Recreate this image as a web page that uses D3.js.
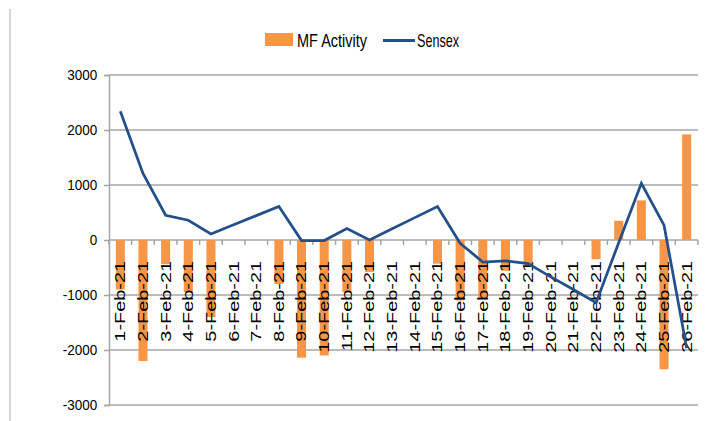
<!DOCTYPE html>
<html lang="en">
<head>
<meta charset="UTF-8">
<title>MF Activity vs Sensex</title>
<script src="https://d3js.org/d3.v7.min.js"></script>
<style>
  body { margin: 0; background: #fff; }
  svg text { font-family: "Liberation Sans", Arial, sans-serif; fill: #000; }
</style>
</head>
<body>
<script>
// dates on the category axis
const dates = ["1-Feb-21","2-Feb-21","3-Feb-21","4-Feb-21","5-Feb-21","6-Feb-21","7-Feb-21",
  "8-Feb-21","9-Feb-21","10-Feb-21","11-Feb-21","12-Feb-21","13-Feb-21","14-Feb-21",
  "15-Feb-21","16-Feb-21","17-Feb-21","18-Feb-21","19-Feb-21","20-Feb-21","21-Feb-21",
  "22-Feb-21","23-Feb-21","24-Feb-21","25-Feb-21","26-Feb-21"];

// MF Activity (bars), null = no value that day
const mfActivity = [-900, -2200, -440, -950, -1400, null, null, -800, -2140, -2100, -950, -580, null, null,
  -430, -1100, -1050, -560, -450, null, null, -350, 350, 720, -2350, 1920];

// Sensex (line)
const sensex = [2340, 1210, 450, 360, 110, 277, 443, 610, -10, -10, 210, 0, 203, 407,
  610, -60, -400, -380, -430, -670, -900, -1140, -50, 1030, 270, -1970];

const yTicks = [-3000, -2000, -1000, 0, 1000, 2000, 3000];

const W = 706, H = 421;
const plotL = 109, plotR = 698, plotT = 75, plotB = 405;

const svg = d3.select("body").append("svg")
  .attr("width", W).attr("height", H);

// faint left frame edge
svg.append("line")
  .attr("x1", 10).attr("x2", 10).attr("y1", 9).attr("y2", H)
  .attr("stroke", "#c8c8c8").attr("stroke-width", 1.5);

const x = d3.scaleBand()
  .domain(dates)
  .range([plotL, plotR])
  .paddingInner(0.6)
  .paddingOuter(0.3);

const y = d3.scaleLinear()
  .domain([-3000, 3000])
  .range([plotB, plotT]);

const cx = d => x(d) + x.bandwidth() / 2;

// gridlines
svg.append("g")
  .selectAll("line")
  .data(yTicks)
  .join("line")
  .attr("x1", plotL).attr("x2", plotR)
  .attr("y1", d => y(d)).attr("y2", d => y(d))
  .attr("stroke", "#a6a6a6").attr("stroke-width", 1.5);

// y axis (plain hyphen for negatives, like the source)
const yAxis = svg.append("g")
  .attr("transform", `translate(${plotL},0)`)
  .call(d3.axisLeft(y).tickValues(yTicks).tickSize(5).tickPadding(8).tickFormat(d => String(d)));
yAxis.select(".domain").attr("stroke", "#a6a6a6").attr("stroke-width", 1.5);
yAxis.selectAll(".tick line").attr("stroke", "#a6a6a6").attr("stroke-width", 1.5);
yAxis.selectAll(".tick text")
  .attr("font-size", 15)
  .attr("transform", "scale(0.9,1)");

// bars
const barData = dates.map((d, i) => ({ date: d, v: mfActivity[i] })).filter(d => d.v !== null);
svg.append("g")
  .selectAll("rect")
  .data(barData)
  .join("rect")
  .attr("x", d => x(d.date))
  .attr("width", x.bandwidth())
  .attr("y", d => y(Math.max(0, d.v)))
  .attr("height", d => Math.abs(y(d.v) - y(0)))
  .attr("fill", "#f79646");

// category tick marks on the zero line, at category boundaries
const gap = (x.step() - x.bandwidth()) / 2;
const bounds = dates.map(d => x(d) - gap).concat([x(dates[dates.length - 1]) + x.bandwidth() + gap]);
svg.append("g")
  .selectAll("line")
  .data(bounds)
  .join("line")
  .attr("x1", d => d).attr("x2", d => d)
  .attr("y1", y(0)).attr("y2", y(0) + 5)
  .attr("stroke", "#a6a6a6").attr("stroke-width", 1.5);

// rotated date labels
svg.append("g")
  .selectAll("text")
  .data(dates)
  .join("text")
  .attr("transform", d => `translate(${cx(d)},${y(0) + 21}) rotate(-90) scale(1.42,1)`)
  .attr("text-anchor", "end")
  .attr("dy", "0.35em")
  .attr("font-size", 14)
  .text(d => d);

// sensex line
const line = d3.line()
  .x((d, i) => cx(dates[i]))
  .y(d => y(d));
svg.append("path")
  .datum(sensex)
  .attr("d", line)
  .attr("fill", "none")
  .attr("stroke", "#24508a")
  .attr("stroke-width", 2.75)
  .attr("stroke-linejoin", "miter");

// legend
const legend = svg.append("g");
legend.append("rect")
  .attr("x", 265).attr("y", 33).attr("width", 28).attr("height", 13)
  .attr("fill", "#f79646");
legend.append("text")
  .attr("x", 297).attr("y", 46.5)
  .attr("font-size", 19)
  .attr("textLength", 70).attr("lengthAdjust", "spacingAndGlyphs")
  .text("MF Activity");
legend.append("line")
  .attr("x1", 383).attr("x2", 415).attr("y1", 40.5).attr("y2", 40.5)
  .attr("stroke", "#24508a").attr("stroke-width", 3);
legend.append("text")
  .attr("x", 417).attr("y", 46.5)
  .attr("font-size", 19)
  .attr("textLength", 42).attr("lengthAdjust", "spacingAndGlyphs")
  .text("Sensex");
</script>
</body>
</html>
